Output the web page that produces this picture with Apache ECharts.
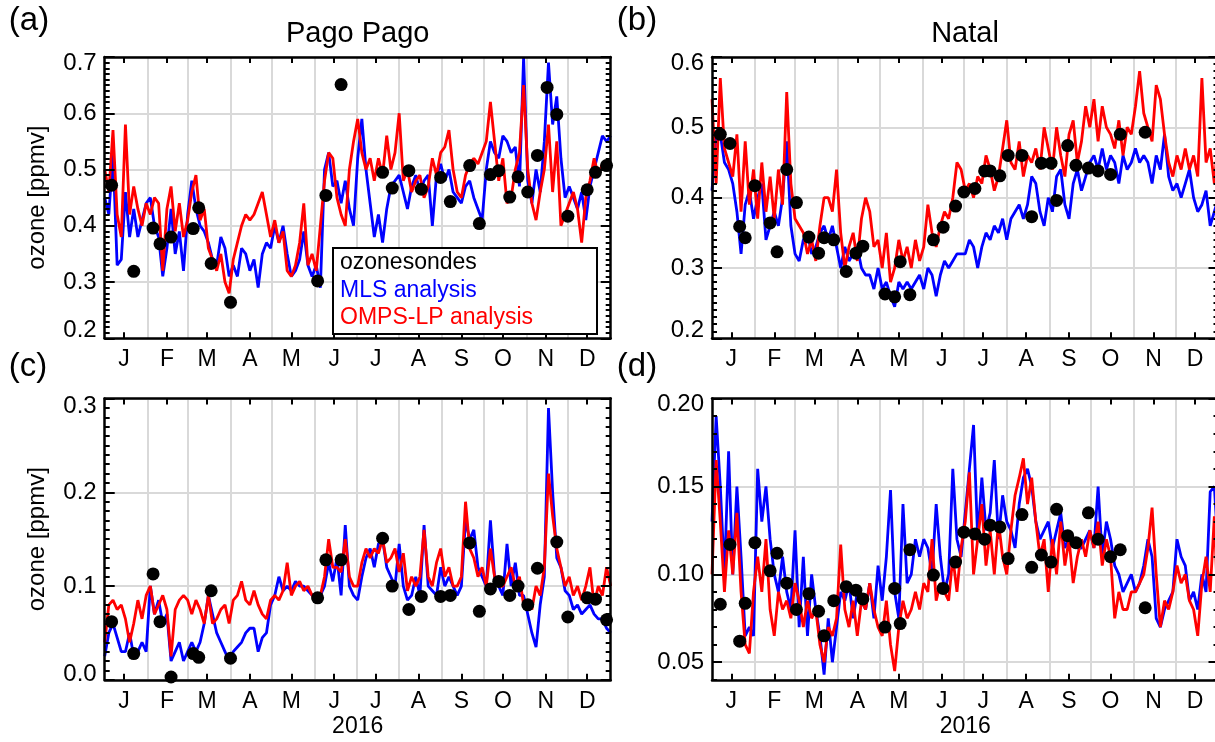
<!DOCTYPE html>
<html><head><meta charset="utf-8">
<script src="https://cdn.jsdelivr.net/npm/echarts@6/dist/echarts.min.js"></script>
<style>html,body{margin:0;padding:0;background:#fff}#c{width:1215px;height:742px}</style>
</head><body><div id="c"></div>
<script>
// ---------------- data ----------------
const MONTH_LABELS = ['J','F','M','A','M','J','J','A','S','O','N','D'];
const MONTH_START_DAYS = [0,31,60,91,121,152,182,213,244,274,305,335,366];
const MONTH_TICK_OFFSET = 14;           // ticks/labels on the 15th
const SAMPLE_STEP = 3;                  // analysis values sampled every 3 days from Jan 1
const YEAR_LABEL = '2016';

const PAGO_Y = [0.2, 0.7, 0.1];          // (a) min, max, step
const NATAL_Y = [0.2, 0.6, 0.1];         // (b)
const PAGO_LOW_Y = [0.0, 0.3, 0.1];      // (c)
const NATAL_LOW_LEVELS = ['0.04','0.05','0.06','0.07','0.08','0.09','0.10','0.11','0.12','0.13','0.14','0.15','0.16','0.17','0.18','0.19','0.20'];
const NATAL_LOW_MAJOR = ['0.05','0.10','0.15','0.20'];

const PAGO_SONDE_DAYS = [5,21,35,40,48,64,68,77,91,154,160,171,201,208,220,229,243,250,264,271,279,285,293,299,306,313,320,327,335,349,355,363];
const PAGO_UPPER_SONDE = [0.472,0.319,0.396,0.368,0.380,0.395,0.432,0.333,0.264,0.302,0.454,0.651,0.495,0.467,0.498,0.465,0.486,0.443,0.507,0.404,0.491,0.498,0.451,0.487,0.460,0.525,0.646,0.598,0.417,0.464,0.495,0.507];
const PAGO_LOWER_SONDE = [0.062,0.028,0.113,0.062,0.003,0.028,0.024,0.095,0.023,0.0875,0.128,0.128,0.151,0.100,0.075,0.089,0.089,0.090,0.146,0.073,0.097,0.105,0.090,0.100,0.080,0.119,null,0.147,0.067,0.0875,0.086,0.064];

const NATAL_SONDE_DAYS = [6,13,20,24,31,42,47,54,61,70,77,81,88,97,104,109,125,132,136,143,160,167,176,182,190,197,201,208,214,224,231,238,245,249,257,263,272,279,288,295,313];
const NATAL_UPPER_SONDE = [0.490,0.477,0.359,0.343,0.417,0.364,0.323,0.440,0.393,0.344,0.321,0.343,0.340,0.295,0.321,0.331,0.263,0.259,0.309,0.262,0.340,0.358,0.388,0.408,0.413,0.438,0.438,0.431,0.460,0.460,0.373,0.449,0.449,0.396,0.474,0.446,0.442,0.438,0.433,0.490,0.493];
const NATAL_LOWER_SONDE = [0.083,0.117,0.062,0.0835,0.118,0.102,0.112,0.095,0.080,0.089,0.079,0.065,0.085,0.093,0.091,0.086,0.070,0.092,0.072,0.114,0.0996,0.092,0.107,0.124,0.123,0.120,0.128,0.127,0.109,0.134,0.104,0.111,0.107,0.137,0.122,0.118,0.135,0.120,0.110,0.114,0.081];

const PAGO_UPPER_MLS = [
0.45,0.42,0.53,0.33,0.34,0.46,0.38,0.43,0.38,0.41,
0.44,0.45,0.40,0.38,0.31,0.36,0.43,0.35,0.39,0.32,
0.42,0.48,0.43,0.40,0.39,0.37,0.34,0.33,0.38,0.36,
0.31,0.33,0.31,0.36,0.35,0.32,0.34,0.29,0.35,0.37,
0.36,0.40,0.37,0.40,0.35,0.31,0.32,0.34,0.39,0.33,
0.31,0.33,0.29,0.50,0.53,0.47,0.48,0.44,0.48,0.43,
0.40,0.52,0.59,0.50,0.44,0.38,0.42,0.37,0.43,0.47,
0.48,0.49,0.46,0.43,0.47,0.49,0.46,0.48,0.49,0.40,
0.49,0.51,0.48,0.50,0.46,0.45,0.44,0.47,0.48,0.45,
0.43,0.41,0.50,0.55,0.53,0.52,0.56,0.55,0.53,0.54,
0.47,0.70,0.48,0.44,0.50,0.46,0.55,0.69,0.58,0.63,
0.52,0.45,0.47,0.45,0.43,0.46,0.41,0.47,0.50,0.53,
0.56,0.55,0.56];
const PAGO_UPPER_OMPS = [
0.50,0.46,0.57,0.42,0.38,0.58,0.42,0.47,0.43,0.40,
0.44,0.42,0.45,0.44,0.32,0.43,0.47,0.39,0.44,0.38,
0.41,0.46,0.49,0.41,0.43,0.36,0.34,0.32,0.35,0.30,
0.28,0.34,0.37,0.40,0.42,0.41,0.42,0.44,0.46,0.42,
0.38,0.41,0.37,0.39,0.32,0.31,0.33,0.37,0.44,0.33,
0.35,0.32,0.40,0.48,0.53,0.52,0.45,0.42,0.40,0.50,
0.55,0.59,0.53,0.50,0.52,0.48,0.52,0.49,0.56,0.50,
0.53,0.60,0.48,0.50,0.46,0.48,0.49,0.45,0.47,0.52,
0.49,0.53,0.54,0.57,0.50,0.46,0.45,0.49,0.51,0.52,
0.51,0.53,0.55,0.62,0.55,0.48,0.52,0.44,0.45,0.50,
0.53,0.65,0.50,0.44,0.41,0.46,0.50,0.58,0.46,0.55,
0.40,0.42,0.44,0.46,0.43,0.37,0.45,0.48,0.52,0.49,
0.51,0.50,0.51];
const NATAL_UPPER_MLS = [
0.41,0.49,0.49,0.45,0.44,0.42,0.38,0.32,0.39,0.41,
0.37,0.40,0.42,0.34,0.36,0.38,0.36,0.40,0.48,0.36,
0.32,0.31,0.34,0.35,0.32,0.33,0.35,0.36,0.34,0.36,
0.33,0.30,0.33,0.31,0.32,0.33,0.30,0.29,0.29,0.27,
0.30,0.27,0.28,0.26,0.245,0.28,0.27,0.28,0.27,0.28,
0.29,0.27,0.30,0.29,0.26,0.29,0.31,0.30,0.31,0.32,
0.32,0.32,0.34,0.33,0.30,0.33,0.35,0.34,0.36,0.35,
0.37,0.34,0.37,0.38,0.39,0.37,0.39,0.43,0.42,0.38,
0.36,0.40,0.38,0.43,0.44,0.39,0.37,0.42,0.44,0.41,
0.43,0.45,0.46,0.44,0.47,0.44,0.46,0.45,0.42,0.46,
0.44,0.45,0.47,0.45,0.46,0.45,0.42,0.46,0.44,0.49,
0.43,0.41,0.42,0.40,0.42,0.44,0.40,0.38,0.39,0.41,
0.36,0.38,0.40];
const NATAL_UPPER_OMPS = [
0.54,0.42,0.57,0.47,0.45,0.43,0.49,0.38,0.48,0.39,
0.44,0.37,0.45,0.38,0.43,0.37,0.44,0.39,0.55,0.42,
0.37,0.36,0.35,0.32,0.34,0.31,0.36,0.40,0.40,0.38,
0.44,0.35,0.30,0.33,0.35,0.31,0.37,0.40,0.38,0.33,
0.34,0.30,0.35,0.28,0.30,0.34,0.31,0.33,0.30,0.34,
0.31,0.33,0.39,0.35,0.33,0.36,0.38,0.37,0.40,0.45,
0.44,0.41,0.42,0.40,0.43,0.42,0.46,0.44,0.41,0.43,
0.47,0.51,0.45,0.44,0.48,0.43,0.46,0.45,0.47,0.44,
0.50,0.47,0.44,0.50,0.46,0.43,0.49,0.51,0.45,0.48,
0.53,0.50,0.54,0.48,0.53,0.50,0.49,0.47,0.51,0.46,
0.50,0.49,0.53,0.58,0.52,0.50,0.48,0.56,0.54,0.49,
0.45,0.43,0.46,0.44,0.47,0.44,0.46,0.43,0.57,0.45,
0.47,0.42,0.49];
const PAGO_LOWER_MLS = [
0.025,0.05,0.06,0.045,0.03,0.03,0.05,0.025,0.03,0.04,
0.03,0.10,0.07,0.085,0.06,0.07,0.02,0.03,0.04,0.02,
0.03,0.04,0.03,0.04,0.06,0.09,0.07,0.05,0.04,0.03,
0.02,0.03,0.035,0.04,0.05,0.055,0.055,0.03,0.045,0.05,
0.08,0.09,0.11,0.095,0.10,0.095,0.105,0.10,0.10,0.095,
0.09,0.085,0.09,0.10,0.125,0.105,0.13,0.09,0.165,0.10,
0.09,0.085,0.11,0.13,0.14,0.12,0.145,0.15,0.12,0.11,
0.10,0.145,0.10,0.085,0.09,0.11,0.09,0.165,0.10,0.095,
0.09,0.12,0.10,0.11,0.10,0.09,0.10,0.17,0.15,0.16,
0.12,0.11,0.10,0.17,0.11,0.10,0.09,0.145,0.10,0.125,
0.09,0.09,0.07,0.05,0.035,0.08,0.11,0.29,0.20,0.13,
0.12,0.095,0.09,0.075,0.08,0.07,0.075,0.08,0.07,0.065,
0.065,0.055,0.05];
const PAGO_LOWER_OMPS = [
0.04,0.08,0.085,0.075,0.08,0.065,0.04,0.06,0.085,0.065,
0.09,0.10,0.07,0.08,0.09,0.075,0.025,0.075,0.085,0.09,
0.085,0.07,0.085,0.075,0.06,0.09,0.06,0.065,0.075,0.08,
0.06,0.085,0.09,0.105,0.085,0.08,0.095,0.08,0.07,0.065,
0.085,0.09,0.085,0.095,0.125,0.09,0.10,0.105,0.095,0.10,
0.09,0.085,0.09,0.11,0.15,0.12,0.12,0.115,0.15,0.11,
0.10,0.10,0.125,0.14,0.13,0.14,0.135,0.15,0.125,0.13,
0.14,0.115,0.135,0.095,0.11,0.10,0.11,0.16,0.11,0.10,
0.125,0.14,0.11,0.12,0.10,0.10,0.11,0.19,0.14,0.13,
0.11,0.12,0.10,0.14,0.11,0.10,0.10,0.11,0.12,0.10,
0.11,0.08,0.085,0.075,0.10,0.09,0.12,0.22,0.175,0.14,
0.12,0.10,0.11,0.09,0.10,0.085,0.10,0.12,0.08,0.10,
0.09,0.12,0.10];
const NATAL_LOWER_MLS = [
0.13,0.19,0.15,0.10,0.17,0.10,0.15,0.11,0.065,0.07,
0.065,0.16,0.13,0.15,0.12,0.10,0.09,0.11,0.09,0.08,
0.125,0.07,0.11,0.065,0.10,0.08,0.065,0.043,0.075,0.05,
0.07,0.09,0.085,0.095,0.075,0.09,0.085,0.08,0.095,0.075,
0.105,0.085,0.11,0.148,0.09,0.075,0.14,0.095,0.10,0.12,
0.11,0.12,0.115,0.10,0.14,0.11,0.09,0.10,0.16,0.12,
0.11,0.135,0.16,0.185,0.12,0.155,0.125,0.135,0.165,0.12,
0.145,0.13,0.125,0.115,0.14,0.155,0.16,0.15,0.13,0.12,
0.125,0.13,0.115,0.125,0.135,0.115,0.12,0.12,0.115,0.115,
0.12,0.125,0.115,0.15,0.11,0.13,0.12,0.105,0.10,0.09,
0.095,0.10,0.09,0.095,0.105,0.12,0.11,0.075,0.07,0.08,
0.085,0.09,0.12,0.11,0.105,0.085,0.09,0.08,0.10,0.09,
0.147,0.15,0.11];
const NATAL_LOWER_OMPS = [
0.10,0.165,0.13,0.09,0.125,0.10,0.135,0.09,0.06,0.055,
0.09,0.11,0.09,0.12,0.08,0.065,0.09,0.08,0.085,0.075,
0.095,0.085,0.07,0.085,0.075,0.08,0.06,0.05,0.07,0.065,
0.075,0.117,0.08,0.07,0.085,0.065,0.085,0.08,0.095,0.08,
0.07,0.065,0.085,0.06,0.045,0.07,0.085,0.075,0.08,0.09,
0.08,0.095,0.09,0.12,0.085,0.095,0.09,0.085,0.11,0.09,
0.115,0.13,0.158,0.10,0.12,0.14,0.105,0.125,0.10,0.13,
0.11,0.10,0.125,0.145,0.155,0.166,0.14,0.155,0.13,0.11,
0.12,0.09,0.12,0.10,0.13,0.105,0.12,0.095,0.11,0.12,
0.11,0.125,0.115,0.13,0.105,0.12,0.11,0.075,0.09,0.08,
0.08,0.09,0.09,0.095,0.10,0.115,0.138,0.10,0.07,0.085,
0.08,0.09,0.105,0.095,0.10,0.085,0.08,0.065,0.095,0.11,
0.09,0.133,0.07];

// ---------------- styling ----------------
const FONT = "'Liberation Sans', Arial, Helvetica, sans-serif";
const GRID_COLOR = '#d9d9d9';
const MLS_COLOR = '#0000ff';
const OMPS_COLOR = '#ff0000';
const FRAME = {color:'#000', width:2.5};
const TICK = {color:'#000', width:2};
const LABEL_SIZE = 23;
const YLABEL_SIZE = 24;

const GRIDS = [
  {left:104.7, top:57, width:506, height:281.3},
  {left:712, top:57, width:506.5, height:281.3},
  {left:104.7, top:398.6, width:506, height:281.2},
  {left:712, top:398.6, width:506.5, height:281.2}
];

const LAST_DAY = MONTH_START_DAYS[MONTH_START_DAYS.length-1];
const dayCats = [];
for (let d = 0; d <= LAST_DAY; d++) dayCats.push(String(d));
const monthStartSet = new Set(MONTH_START_DAYS.slice(1, 12));
const tickLabel = {};
MONTH_LABELS.forEach((m, i) => { tickLabel[MONTH_START_DAYS[i] + MONTH_TICK_OFFSET] = m; });
const tickSet = new Set(Object.keys(tickLabel).map(Number));

const xAxes = [], yAxes = [], series = [];

function catX(g, pos, z, extra) {
  return Object.assign({gridIndex:g, type:'category', data:dayCats, boundaryGap:false, position:pos, z:z,
    axisLine:{show:false, onZero:false}, axisTick:{show:false}, axisLabel:{show:false}, splitLine:{show:false}}, extra);
}
function addXAxes(g, withName) {
  const xi = xAxes.length;
  xAxes.push({gridIndex:g, type:'value', min:0, max:LAST_DAY, show:false});
  xAxes.push(catX(g, 'bottom', 0, {splitLine:{show:true, interval:(i)=>monthStartSet.has(i), lineStyle:{color:GRID_COLOR, width:2}}}));
  xAxes.push(catX(g, 'bottom', 10, {
    axisLine:{show:true, onZero:false, lineStyle:FRAME},
    axisTick:{show:true, inside:true, length:6, interval:(i)=>tickSet.has(i), lineStyle:TICK},
    axisLabel:{show:true, interval:(i)=>tickSet.has(i), formatter:(v)=>tickLabel[v]||'', margin:10, fontSize:LABEL_SIZE, color:'#000', fontFamily:FONT},
    name: withName ? YEAR_LABEL : '', nameLocation:'middle', nameGap:35,
    nameTextStyle:{fontSize:LABEL_SIZE, color:'#000', fontFamily:FONT}
  }));
  xAxes.push(catX(g, 'top', 10, {
    axisLine:{show:true, onZero:false, lineStyle:FRAME},
    axisTick:{show:true, inside:true, length:6, interval:(i)=>tickSet.has(i), lineStyle:TICK}
  }));
  return xi;
}
function richFor(padTop, padBot) {
  const base = {fontSize:YLABEL_SIZE, color:'#000', fontFamily:FONT};
  return {t:Object.assign({padding:[padTop,0,0,0]}, base), b:Object.assign({padding:[0,0,padBot,0]}, base)};
}
function addValueY(g, rng, minorSplit, padTop, padBot, yname) {
  const [mn, mx, step] = rng;
  const yi = yAxes.length;
  const common = {gridIndex:g, type:'value', min:mn, max:mx, interval:step};
  yAxes.push(Object.assign({}, common, {position:'left', z:0, axisLine:{show:false, onZero:false}, axisTick:{show:false}, axisLabel:{show:false},
    splitLine:{show:true, lineStyle:{color:GRID_COLOR, width:2}}}));
  const ticks = {axisTick:{show:true, inside:true, length:10, lineStyle:TICK},
    minorTick:{show:true, splitNumber:minorSplit, length:5, lineStyle:TICK},
    axisLine:{show:true, onZero:false, lineStyle:FRAME}, splitLine:{show:false}, minorSplitLine:{show:false}};
  yAxes.push(Object.assign({}, common, ticks, {position:'left', z:10,
    axisLabel:{show:true, showMinLabel:true, showMaxLabel:true, margin:8, fontSize:YLABEL_SIZE, color:'#000', fontFamily:FONT,
      formatter:(v)=>{const t = Number(v).toFixed(1); if (Math.abs(v-mx)<1e-9) return '{t|'+t+'}'; if (Math.abs(v-mn)<1e-9) return '{b|'+t+'}'; return t;},
      rich: richFor(padTop, padBot)},
    name: yname || '', nameLocation:'middle', nameGap:55, nameRotate:90,
    nameTextStyle:{fontSize:YLABEL_SIZE, color:'#000', fontFamily:FONT}}));
  yAxes.push(Object.assign({}, common, ticks, {position:'right', z:10, axisLabel:{show:false}}));
  return yi;
}
function addCategoryY(g, levels, major, padTop) {
  const yi = yAxes.length;
  const majorSet = new Set(major);
  const mn = Number(levels[0]), mx = Number(levels[levels.length-1]);
  const step = Number((Number(levels[1]) - Number(levels[0])).toFixed(4));
  const valueCommon = {gridIndex:g, type:'value', min:mn, max:mx, interval:step,
    axisLabel:{show:false}, splitLine:{show:false},
    axisTick:{show:true, inside:true, length:5, lineStyle:TICK},
    axisLine:{show:true, onZero:false, lineStyle:FRAME}};
  yAxes.push(Object.assign({}, valueCommon, {position:'left', z:10}));      // data axis + minor ticks
  const catCommon = {gridIndex:g, type:'category', data:levels, boundaryGap:false,
    axisLine:{show:false, onZero:false}, axisTick:{show:false}, axisLabel:{show:false}, splitLine:{show:false}};
  yAxes.push(Object.assign({}, catCommon, {position:'left', z:0,
    splitLine:{show:true, interval:(i, v)=>majorSet.has(v), lineStyle:{color:GRID_COLOR, width:2}}}));
  yAxes.push(Object.assign({}, catCommon, {position:'left', z:10,
    axisTick:{show:true, inside:true, length:10, interval:(i, v)=>majorSet.has(v), lineStyle:TICK},
    axisLabel:{show:true, interval:(i, v)=>majorSet.has(v), margin:8, fontSize:YLABEL_SIZE, color:'#000', fontFamily:FONT,
      formatter:(v)=> v === levels[levels.length-1] ? '{t|'+v+'}' : v, rich: richFor(padTop, 0)}}));
  yAxes.push(Object.assign({}, valueCommon, {position:'right', z:10}));
  yAxes.push(Object.assign({}, catCommon, {position:'right', z:10,
    axisTick:{show:true, inside:true, length:10, interval:(i, v)=>majorSet.has(v), lineStyle:TICK}}));
  return yi;
}

function pairs(days, vals) {
  const out = [];
  vals.forEach((v, i) => { if (v !== null) out.push([days[i], v]); });
  return out;
}
function sampled(vals) { return vals.map((v, i) => [i * SAMPLE_STEP, v]); }

function addSeries(xi, yi, mls, omps, sDays, sVals) {
  series.push({type:'line', name:'MLS analysis', xAxisIndex:xi, yAxisIndex:yi, data:sampled(mls), showSymbol:false, symbol:'none',
    lineStyle:{color:MLS_COLOR, width:2.8, opacity:1}, itemStyle:{color:MLS_COLOR}, z:2, silent:true});
  series.push({type:'line', name:'OMPS-LP analysis', xAxisIndex:xi, yAxisIndex:yi, data:sampled(omps), showSymbol:false, symbol:'none',
    lineStyle:{color:OMPS_COLOR, width:2.8, opacity:1}, itemStyle:{color:OMPS_COLOR}, z:3, silent:true});
  series.push({type:'scatter', name:'ozonesondes', xAxisIndex:xi, yAxisIndex:yi, data:pairs(sDays, sVals), symbol:'circle', symbolSize:13,
    itemStyle:{color:'#000', opacity:1}, z:4, silent:true});
}

// panel a
let xi = addXAxes(0, false);
let yi = addValueY(0, PAGO_Y, 10, 12, 16, 'ozone [ppmv]');
addSeries(xi, yi, PAGO_UPPER_MLS, PAGO_UPPER_OMPS, PAGO_SONDE_DAYS, PAGO_UPPER_SONDE);
// panel b
xi = addXAxes(1, false);
yi = addValueY(1, NATAL_Y, 10, 12, 16, '');
addSeries(xi, yi, NATAL_UPPER_MLS, NATAL_UPPER_OMPS, NATAL_SONDE_DAYS, NATAL_UPPER_SONDE);
// panel c
xi = addXAxes(2, true);
yi = addValueY(2, PAGO_LOW_Y, 10, 15, 10, 'ozone [ppmv]');
addSeries(xi, yi, PAGO_LOWER_MLS, PAGO_LOWER_OMPS, PAGO_SONDE_DAYS, PAGO_LOWER_SONDE);
// panel d
xi = addXAxes(3, true);
yi = addCategoryY(3, NATAL_LOW_LEVELS, NATAL_LOW_MAJOR, 11);
addSeries(xi, yi, NATAL_LOWER_MLS, NATAL_LOWER_OMPS, NATAL_SONDE_DAYS, NATAL_LOWER_SONDE);

function txt(text, x, y, size) {
  return {type:'text', x:x, y:y, z:20, style:{text:text, fontSize:size, fontFamily:FONT, fill:'#000', align:'center', verticalAlign:'middle'}};
}

const option = {
  animation:false,
  backgroundColor:'#fff',
  grid: GRIDS.map(g => Object.assign({show:false, containLabel:false, outerBoundsMode:'none'}, g)),
  xAxis: xAxes,
  yAxis: yAxes,
  legend: {
    left:333, top:248, orient:'vertical', icon:'none', itemWidth:0, itemHeight:23, itemGap:4.5,
    padding:[3.5, 64, 4.5, 2], backgroundColor:'#fff', borderColor:'#000', borderWidth:2, borderRadius:0,
    selectedMode:false, z:20,
    textStyle:{fontSize:23, fontFamily:FONT, lineHeight:23},
    data:[{name:'ozonesondes', textStyle:{color:'#000'}},
          {name:'MLS analysis', textStyle:{color:MLS_COLOR}},
          {name:'OMPS-LP analysis', textStyle:{color:OMPS_COLOR}}]
  },
  graphic: [
    txt('(a)', 29, 21, 33), txt('(b)', 637, 21, 33), txt('(c)', 28, 367, 33), txt('(d)', 637, 367, 33),
    txt('Pago Pago', 357.7, 34, 29), txt('Natal', 965, 34, 29)
  ],
  series: series
};
const chart = echarts.init(document.getElementById('c'), null, {renderer:'canvas'});
chart.setOption(option);
</script></body></html>
